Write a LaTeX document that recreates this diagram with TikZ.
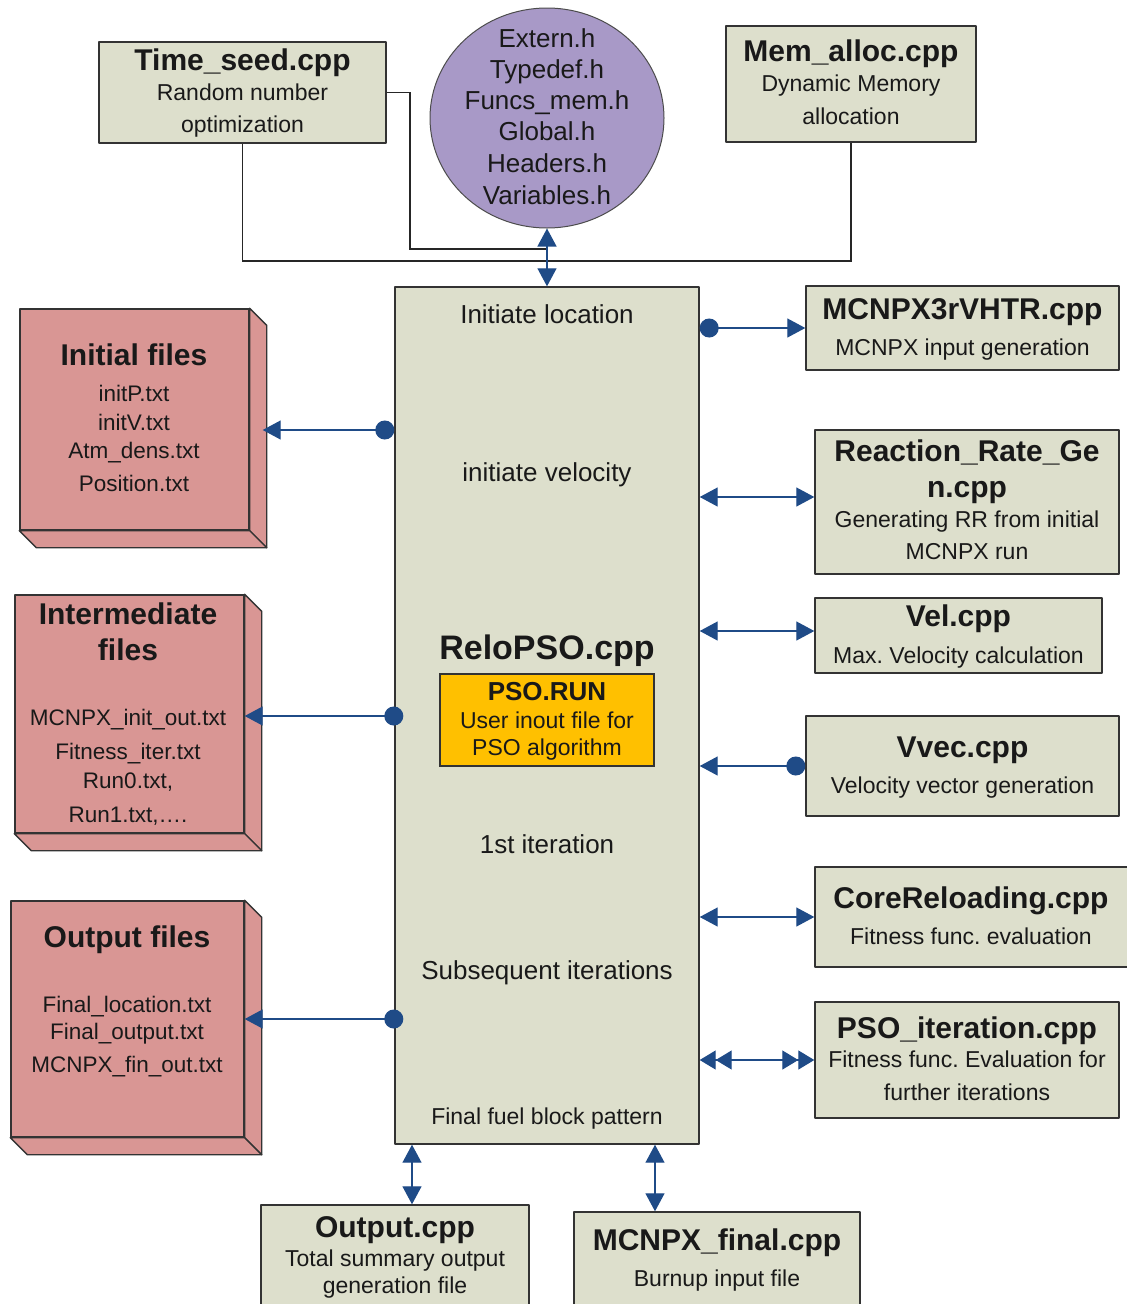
\documentclass[tikz,border=0pt]{standalone}
\usepackage{fontspec}
\setmainfont{Liberation Sans}
\usetikzlibrary{arrows.meta,shapes.geometric}
\definecolor{boxgray}{RGB}{221,223,204}
\definecolor{filepink}{RGB}{217,150,148}
\definecolor{hdrpurple}{RGB}{168,153,199}
\definecolor{runyellow}{RGB}{255,192,0}
\definecolor{arrowblue}{RGB}{31,75,135}
\frenchspacing
\begin{document}
\begin{tikzpicture}[x=1pt,y=-1pt,
  box/.style={draw=black!80, line width=1.4pt, fill=boxgray, inner sep=0pt, line join=round},
  pbox/.style={box, fill=filepink},
  pface/.style={draw=black!80, line width=1.4pt, fill=filepink, line join=round},
  tx/.style={inner sep=0pt, text=black!90},
  ttl/.style={tx, font=\fontsize{30}{36}\selectfont\bfseries, text height=21.6pt, text depth=0pt},
  sub/.style={tx, font=\fontsize{23}{28}\selectfont, text height=16.6pt, text depth=0pt},
  lst/.style={tx, font=\fontsize{22.5}{28}\selectfont, text height=16.2pt, text depth=0pt},
  big/.style={tx, font=\fontsize{26}{31}\selectfont, text height=18.7pt, text depth=0pt},
  huge/.style={tx, font=\fontsize{34}{40}\selectfont\bfseries, text height=24.5pt, text depth=0pt},
  runt/.style={tx, font=\fontsize{26}{31}\selectfont\bfseries, text height=18.7pt, text depth=0pt},
  bk/.style={draw=black!85, line width=1.4pt},
  bl/.style={draw=arrowblue, line width=1.3pt},
  tri/.tip={Triangle[length=18pt,width=19pt,color=arrowblue]},
  dot/.tip={Circle[length=19pt,color=arrowblue]},
]
\useasboundingbox (0,0) rectangle (1127,1304);

% ---------- main box ----------
\node[box, minimum width=304pt, minimum height=857pt] (main) at (547,715.5) {};
\node[big] (m1) at (547,314) {Initiate location};
\node[big] (m2) at (547,472) {initiate velocity};
\node[huge] (m3) at (547,647) {ReloPSO.cpp};
\node[big] (m4) at (547,844) {1st iteration};
\node[big] (m5) at (547,970) {Subsequent iterations};
\node[sub] (m6) at (547,1116) {Final fuel block pattern};

\node[draw=black!80, line width=1.2pt, fill=runyellow, inner sep=0pt, minimum width=214pt, minimum height=92pt] (run) at (547,720) {};
\node[runt] (r1) at (547,691) {PSO.RUN};
\node[sub] (r2) at (547,720) {User inout file for};
\node[sub] (r3) at (547,747) {PSO algorithm};

% ---------- top ----------
\node[box, minimum width=287pt, minimum height=101pt] (ts) at (242.5,92.5) {};
\node[ttl] (ts1) at (242.5,60) {Time\_seed.cpp};
\node[sub] (ts2) at (242.5,92) {Random number};
\node[sub] (ts3) at (242.5,124) {optimization};

\node[ellipse, draw=black!70, line width=1pt, fill=hdrpurple, minimum width=234pt, minimum height=220pt, inner sep=0pt] (hdr) at (547,118) {};
\node[big] (h1) at (547,38) {Extern.h};
\node[big] (h2) at (547,69) {Typedef.h};
\node[big] (h3) at (547,100) {Funcs\_mem.h};
\node[big] (h4) at (547,131) {Global.h};
\node[big] (h5) at (547,163) {Headers.h};
\node[big] (h6) at (547,195) {Variables.h};

\node[box, minimum width=250pt, minimum height=116pt] (ma) at (851,84) {};
\node[ttl] (ma1) at (851,51) {Mem\_alloc.cpp};
\node[sub] (ma2) at (851,83) {Dynamic Memory};
\node[sub] (ma3) at (851,116) {allocation};

\coordinate (k1) at (410,249);
\coordinate (k2) at (547,249);
\coordinate (k3) at (547,261);
\draw[bk] (ts.east) -| (k1) -- (k2);
\draw[bk] (ts.south) |- (k3) -| (ma.south);
\draw[bl, tri-tri] (hdr.south) -- (main.north);

% ---------- right boxes ----------
\node[box, minimum width=313pt, minimum height=84pt] (mc) at (962.5,328) {};
\node[ttl] (mc1) at (962.5,309) {MCNPX3rVHTR.cpp};
\node[sub] (mc2) at (962.5,347) {MCNPX input generation};

\node[box, minimum width=304pt, minimum height=144pt] (rr) at (967,502) {};
\node[ttl] (rr1) at (967,451) {Reaction\_Rate\_Ge};
\node[ttl] (rr2) at (967,487) {n.cpp};
\node[sub] (rr3) at (967,519) {Generating RR from initial};
\node[sub] (rr4) at (967,551) {MCNPX run};

\node[box, minimum width=287pt, minimum height=75pt] (vel) at (958.5,635.5) {};
\node[ttl] (vel1) at (958.5,616) {Vel.cpp};
\node[sub] (vel2) at (958.5,655) {Max. Velocity calculation};

\node[box, minimum width=313pt, minimum height=100pt] (vv) at (962.5,766) {};
\node[ttl] (vv1) at (962.5,747) {Vvec.cpp};
\node[sub] (vv2) at (962.5,785) {Velocity vector generation};

\node[box, minimum width=320pt, minimum height=100pt] (cr) at (975,917) {};
\node[ttl] (cr1) at (971,898) {CoreReloading.cpp};
\node[sub] (cr2) at (971,936) {Fitness func. evaluation};

\node[box, minimum width=304pt, minimum height=116pt] (pi) at (967,1060) {};
\node[ttl] (pi1) at (967,1028) {PSO\_iteration.cpp};
\node[sub] (pi2) at (967,1059) {Fitness func. Evaluation for};
\node[sub] (pi3) at (967,1092) {further iterations};

\coordinate (rrW) at ([yshift=5pt]rr.west);
\coordinate (velW) at ([yshift=4.5pt]vel.west);
\draw[bl, dot-tri] (main.east |- mc.west) -- (mc.west);
\draw[bl, tri-tri] (main.east |- rrW) -- (rrW);
\draw[bl, tri-tri] (main.east |- velW) -- (velW);
\draw[bl, dot-tri] (vv.west) -- (main.east |- vv.west);
\draw[bl, tri-tri] (main.east |- cr.west) -- (cr.west);
\draw[bl, {Triangle[length=16pt,width=19pt,color=arrowblue] Triangle[length=16pt,width=19pt,color=arrowblue]}-{Triangle[length=16pt,width=19pt,color=arrowblue] Triangle[length=16pt,width=19pt,color=arrowblue]}] (main.east |- pi.west) -- (pi.west);

% ---------- left 3D boxes ----------
\node[pbox, minimum width=229pt, minimum height=221pt] (ib) at (134.5,419.5) {};
\draw[pface] (ib.north east) -- ++(17,17) -- ([xshift=17pt,yshift=-17pt]ib.south east) -- (ib.south east) -- cycle;
\draw[pface] (ib.south west) -- ++(17,17) -- ([xshift=17pt,yshift=-17pt]ib.south east) -- (ib.south east) -- cycle;
\node[ttl] (ib1) at (134,355) {Initial files};
\node[lst] (ib2) at (134,393) {initP.txt};
\node[lst] (ib3) at (134,422) {initV.txt};
\node[lst] (ib4) at (134,450) {Atm\_dens.txt};
\node[lst] (ib5) at (134,483) {Position.txt};

\node[pbox, minimum width=229pt, minimum height=238pt] (imb) at (129.5,714) {};
\draw[pface] (imb.north east) -- ++(17,17) -- ([xshift=17pt,yshift=-17pt]imb.south east) -- (imb.south east) -- cycle;
\draw[pface] (imb.south west) -- ++(17,17) -- ([xshift=17pt,yshift=-17pt]imb.south east) -- (imb.south east) -- cycle;
\node[ttl] (imb1) at (128,614) {Intermediate};
\node[ttl] (imb2) at (128,650) {files};
\node[lst] (imb3) at (128,717) {MCNPX\_init\_out.txt};
\node[lst] (imb4) at (128,751) {Fitness\_iter.txt};
\node[lst] (imb5) at (128,780) {Run0.txt,};
\node[lst] (imb6) at (128,814) {Run1.txt,….};

\node[pbox, minimum width=233pt, minimum height=236pt] (ob) at (127.5,1019) {};
\draw[pface] (ob.north east) -- ++(17,17) -- ([xshift=17pt,yshift=-17pt]ob.south east) -- (ob.south east) -- cycle;
\draw[pface] (ob.south west) -- ++(17,17) -- ([xshift=17pt,yshift=-17pt]ob.south east) -- (ob.south east) -- cycle;
\node[ttl] (ob1) at (127,937) {Output files};
\node[lst] (ob2) at (127,1004) {Final\_location.txt};
\node[lst] (ob3) at (127,1031) {Final\_output.txt};
\node[lst] (ob4) at (127,1064) {MCNPX\_fin\_out.txt};

\coordinate (ibE) at ([xshift=13pt,yshift=-10.5pt]ib.east);
\coordinate (imbE) at ([yshift=-2pt]imb.east);
\draw[bl, tri-dot] (ibE) -- (main.west |- ibE);
\draw[bl, tri-dot, shorten >=-9pt] (imbE) -- (main.west |- imbE);
\draw[bl, tri-dot, shorten >=-9pt] (ob.east) -- (main.west |- ob.east);

% ---------- bottom boxes ----------
\node[box, minimum width=268pt, minimum height=105pt] (oc) at (395,1257.5) {};
\node[ttl] (oc1) at (395,1227) {Output.cpp};
\node[sub] (oc2) at (395,1258) {Total summary output};
\node[sub] (oc3) at (395,1285) {generation file};

\node[box, minimum width=286pt, minimum height=98pt] (mf) at (717,1261) {};
\node[ttl] (mf1) at (717,1240) {MCNPX\_final.cpp};
\node[sub] (mf2) at (717,1278) {Burnup input file};

\coordinate (ocT) at ([xshift=17pt]oc.north);
\coordinate (mfT) at ([xshift=-62pt]mf.north);
\draw[bl, tri-tri] (ocT |- main.south) -- (ocT);
\draw[bl, tri-tri] (mfT |- main.south) -- (mfT);
\end{tikzpicture}
\end{document}
